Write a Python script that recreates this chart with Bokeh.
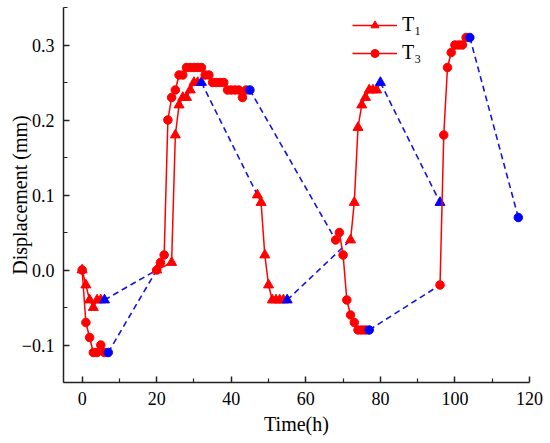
from bokeh.plotting import figure
from bokeh.models import FixedTicker, CustomJSTickFormatter, Legend, LegendItem, Range1d
from bokeh.embed import file_html
from bokeh.resources import INLINE

# ---- data ----
x_ticks = [0, 20, 40, 60, 80, 100, 120]
x_minor = [10, 30, 50, 70, 90, 110]
y_ticks = [-0.1, 0.0, 0.1, 0.2, 0.3]
y_minor = [-0.15, -0.05, 0.05, 0.15, 0.25, 0.35]

# T1 (triangles): measured segments
t1_seg1_x = [0, 1, 2, 3, 4, 5, 6]
t1_seg1_y = [0.0, -0.02, -0.04, -0.05, -0.04, -0.04, -0.04]
t1_seg2_x = [20, 24, 25, 26, 27, 28, 29, 30, 31, 32]
t1_seg2_y = [0.0, 0.01, 0.18, 0.22, 0.23, 0.23, 0.24, 0.25, 0.25, 0.25]
t1_seg3_x = [47, 48, 49, 50, 51, 52, 53, 54, 55]
t1_seg3_y = [0.10, 0.09, 0.02, -0.02, -0.04, -0.04, -0.04, -0.04, -0.04]
t1_seg4_x = [72, 73, 74, 75, 76, 77, 78, 79, 80]
t1_seg4_y = [0.04, 0.09, 0.19, 0.22, 0.23, 0.24, 0.24, 0.24, 0.25]
t1_last_x = [96]
t1_last_y = [0.09]

# T3 (circles): measured segments
t3_seg1_x = [0, 1, 2, 3, 4, 5, 6, 7]
t3_seg1_y = [0.0, -0.07, -0.09, -0.11, -0.11, -0.10, -0.11, -0.11]
t3_seg2_x = [20, 21, 22, 23, 24, 25, 26, 27, 28, 29, 30, 31, 32, 33, 34, 35, 36,
             37, 38, 39, 40, 41, 42, 43, 44, 45]
t3_seg2_y = [0.0, 0.01, 0.02, 0.20, 0.23, 0.24, 0.26, 0.26, 0.27, 0.27, 0.27, 0.27,
             0.27, 0.26, 0.26, 0.25, 0.25, 0.25, 0.25, 0.24, 0.24, 0.24, 0.24, 0.23,
             0.24, 0.24]
t3_seg3_x = [68, 69, 70, 71, 72, 73, 74, 75, 76, 77]
t3_seg3_y = [0.04, 0.05, 0.02, -0.04, -0.06, -0.07, -0.08, -0.08, -0.08, -0.08]
t3_seg4_x = [96, 97, 98, 99, 100, 101, 102, 103, 104]
t3_seg4_y = [-0.02, 0.18, 0.27, 0.29, 0.30, 0.30, 0.30, 0.31, 0.31]
t3_last_x = [117]
t3_last_y = [0.07]

RED = "#FF0000"
BLUE = "#0000FF"
FONT = "Liberation Serif"

t1_segs = [(t1_seg1_x, t1_seg1_y), (t1_seg2_x, t1_seg2_y),
           (t1_seg3_x, t1_seg3_y), (t1_seg4_x, t1_seg4_y)]
t3_segs = [(t3_seg1_x, t3_seg1_y), (t3_seg2_x, t3_seg2_y),
           (t3_seg3_x, t3_seg3_y), (t3_seg4_x, t3_seg4_y)]


def build(segs, last_x, last_y):
    red_xs = [list(sx) for sx, sy in segs]
    red_ys = [list(sy) for sx, sy in segs]
    mk_x, mk_y = [], []
    for sx, sy in segs:
        mk_x += sx[:-1]
        mk_y += sy[:-1]
    ends_x = [sx[-1] for sx, sy in segs] + list(last_x)
    ends_y = [sy[-1] for sx, sy in segs] + list(last_y)
    starts_x = [sx[0] for sx, sy in segs[1:]] + list(last_x)
    starts_y = [sy[0] for sx, sy in segs[1:]] + list(last_y)
    dash_xs = [[ends_x[i], starts_x[i]] for i in range(len(segs))]
    dash_ys = [[ends_y[i], starts_y[i]] for i in range(len(segs))]
    return red_xs, red_ys, mk_x, mk_y, ends_x, ends_y, dash_xs, dash_ys


p = figure(width=550, height=443, output_backend="svg", toolbar_location=None,
           x_range=Range1d(-5, 120), y_range=Range1d(-0.15, 0.35),
           min_border_left=63, min_border_right=21, min_border_top=7,
           min_border_bottom=61)
p.outline_line_color = None
p.grid.visible = False
p.background_fill_color = "white"
p.border_fill_color = "white"

items = []
for segs, lx, ly, marker, msize, label in [
        (t1_segs, t1_last_x, t1_last_y, "triangle", 10, "T\u2081"),
        (t3_segs, t3_last_x, t3_last_y, "circle", 8.5, "T\u2083")]:
    rxs, rys, mx, my, ex, ey, dxs, dys = build(segs, lx, ly)
    p.multi_line(dxs, dys, line_color="#1414E0", line_width=1.6, line_dash="6 4")
    lr = p.multi_line(rxs, rys, line_color=RED, line_width=1.5)
    sr = p.scatter(mx, my, marker=marker, size=msize, fill_color=RED, line_color=RED)
    p.scatter(ex, ey, marker=marker, size=msize, fill_color=BLUE, line_color=BLUE)
    items.append(LegendItem(label=label, renderers=[lr, sr]))

legend = Legend(items=items, location=(289, 318))
legend.border_line_color = None
legend.background_fill_alpha = 0
legend.padding = 0
legend.margin = 0
legend.spacing = 5
legend.glyph_width = 45
legend.glyph_height = 20
legend.label_height = 20
legend.label_standoff = 5
legend.label_text_font = FONT
legend.label_text_font_size = "20px"
legend.label_text_color = "black"
p.add_layout(legend, "center")

p.xaxis.ticker = FixedTicker(ticks=x_ticks, minor_ticks=x_minor)
p.yaxis.ticker = FixedTicker(ticks=y_ticks, minor_ticks=y_minor)
p.yaxis.formatter = CustomJSTickFormatter(code="return tick.toFixed(1).replace('-', '\\u2212');")

for ax in (p.xaxis, p.yaxis):
    ax.axis_line_color = "#222222"
    ax.axis_line_width = 1.5
    ax.major_tick_line_color = "#222222"
    ax.minor_tick_line_color = "#222222"
    ax.major_tick_line_width = 1.5
    ax.minor_tick_line_width = 1.2
    ax.major_tick_in = 6
    ax.major_tick_out = 0
    ax.minor_tick_in = 4
    ax.minor_tick_out = 0
    ax.major_label_text_font = FONT
    ax.major_label_text_font_size = "18px"
    ax.major_label_text_color = "black"
    ax.axis_label_text_font = FONT
    ax.axis_label_text_font_size = "20px"
    ax.axis_label_text_font_style = "normal"
    ax.axis_label_text_color = "black"

p.xaxis.axis_label = "Time(h)"
p.yaxis.axis_label = "Displacement (mm)"
p.xaxis.major_label_standoff = 9
p.xaxis.axis_label_standoff = 5
p.yaxis.major_label_standoff = 9
p.yaxis.axis_label_standoff = -12

open("out.html", "w").write(file_html(p, INLINE))
